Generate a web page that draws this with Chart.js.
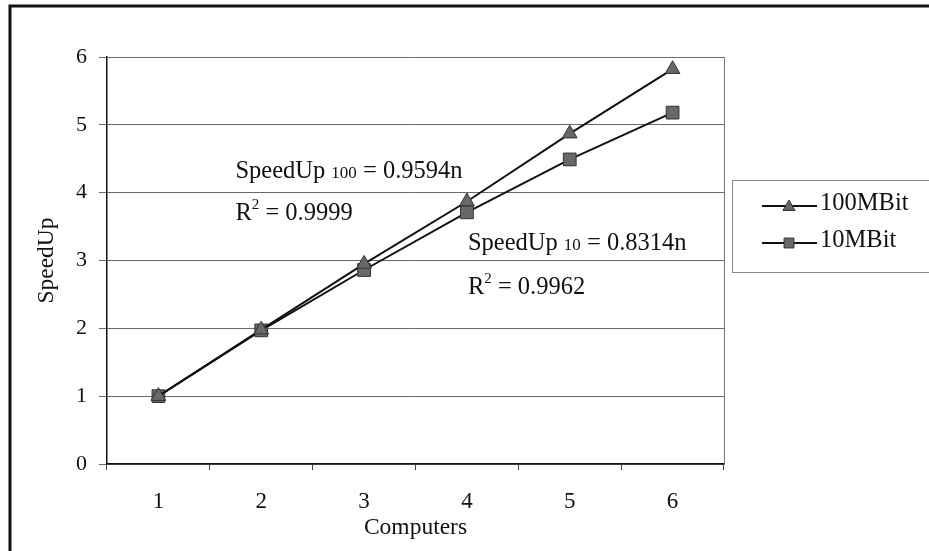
<!DOCTYPE html>
<html>
<head>
<meta charset="utf-8">
<script src="https://cdn.jsdelivr.net/npm/chart.js@4/dist/chart.umd.min.js"></script>
<style>
  html, body { margin: 0; padding: 0; background: #fff; }
  canvas { display: block; }
</style>
</head>
<body>
<canvas id="speedup" width="929" height="551"></canvas>
<script>
const computers = ["1", "2", "3", "4", "5", "6"];
const speed100 = [1.0, 1.98, 2.95, 3.87, 4.87, 5.82];
const speed10 = [1.0, 1.97, 2.86, 3.71, 4.49, 5.18];
const seriesNames = ["100MBit", "10MBit"];
const yTicks = [0, 1, 2, 3, 4, 5, 6];

const serif = "'Liberation Serif', 'Times New Roman', serif";
const markerFill = "#686868";

// frame around the whole figure and the plot area
const framePlugin = {
    id: "frame",
    beforeDraw(chart) {
        const ctx = chart.ctx;
        ctx.save();
        ctx.strokeStyle = "#111";
        ctx.lineWidth = 3;
        ctx.beginPath();
        ctx.moveTo(10, chart.height);
        ctx.lineTo(10, 6);
        ctx.lineTo(chart.width, 6);
        ctx.stroke();
        ctx.restore();
    },
    afterDatasetsDraw(chart) {
        const a = chart.chartArea, ctx = chart.ctx;
        ctx.save();
        ctx.strokeStyle = "#777";
        ctx.lineWidth = 1;
        ctx.beginPath();
        ctx.moveTo(a.right + 0.5, a.top);
        ctx.lineTo(a.right + 0.5, a.bottom);
        ctx.stroke();
        ctx.restore();
    }
};

// trend line equations written inside the plot
function subText(ctx, x, y, parts) {
    for (const p of parts) {
        ctx.font = p.size + "px " + serif;
        ctx.fillText(p.t, x, y + (p.dy || 0));
        x += ctx.measureText(p.t).width;
    }
}
const equationPlugin = {
    id: "equations",
    afterDraw(chart) {
        const ctx = chart.ctx, x = chart.scales.x, y = chart.scales.y;
        ctx.save();
        ctx.fillStyle = "#111";
        ctx.textBaseline = "alphabetic";
        const x1 = x.getPixelForValue(0) + 77, x2 = x.getPixelForValue(3) + 1;
        subText(ctx, x1, y.getPixelForValue(4.22), [
            {t: "SpeedUp ", size: 24.5}, {t: "100", size: 17}, {t: " = 0.9594n", size: 24.5}]);
        subText(ctx, x1, y.getPixelForValue(3.6), [
            {t: "R", size: 24.5}, {t: "2", size: 15, dy: -11}, {t: " = 0.9999", size: 24.5}]);
        subText(ctx, x2, y.getPixelForValue(3.15), [
            {t: "SpeedUp ", size: 24.5}, {t: "10", size: 17}, {t: " = 0.8314n", size: 24.5}]);
        subText(ctx, x2, y.getPixelForValue(2.5), [
            {t: "R", size: 24.5}, {t: "2", size: 15, dy: -11}, {t: " = 0.9962", size: 24.5}]);
        ctx.restore();
    }
};

// boxed legend to the right of the plot
const boxLegend = {
    id: "boxLegend",
    afterDraw(chart) {
        const ctx = chart.ctx;
        ctx.save();
        ctx.strokeStyle = "#888";
        ctx.lineWidth = 1;
        ctx.strokeRect(732.5, 180.5, 220, 92);
        chart.data.datasets.forEach((ds, i) => {
            const cy = 206 + i * 37;
            ctx.strokeStyle = "#111";
            ctx.lineWidth = 2;
            ctx.beginPath();
            ctx.moveTo(762, cy);
            ctx.lineTo(817, cy);
            ctx.stroke();
            ctx.fillStyle = ds.pointBackgroundColor;
            ctx.strokeStyle = "#333";
            ctx.lineWidth = 1;
            Chart.helpers.drawPoint(ctx, {
                pointStyle: ds.pointStyle, radius: 7, borderWidth: 1
            }, 789, cy + (ds.pointStyle === "triangle" ? 1 : 0));
            ctx.fillStyle = "#111";
            ctx.font = "24.5px " + serif;
            ctx.textBaseline = "middle";
            ctx.fillText(ds.label, 820, cy - 2);
        });
        ctx.restore();
    }
};

new Chart("speedup", {
    type: "line",
    data: {
        labels: computers,
        datasets: [{
            label: seriesNames[0],
            data: speed100,
            borderColor: "#111",
            borderWidth: 2,
            pointStyle: "triangle",
            pointRadius: 8.5,
            pointBackgroundColor: markerFill,
            pointBorderColor: "#333",
            pointBorderWidth: 1,
            tension: 0
        }, {
            label: seriesNames[1],
            data: speed10,
            borderColor: "#111",
            borderWidth: 2,
            pointStyle: "rect",
            pointRadius: 9,
            pointBackgroundColor: markerFill,
            pointBorderColor: "#333",
            pointBorderWidth: 1,
            tension: 0
        }]
    },
    options: {
        responsive: false,
        animation: false,
        devicePixelRatio: 1,
        layout: {padding: {left: 12, right: 205, top: 57, bottom: 0}},
        plugins: {
            legend: {display: false},
            tooltip: {enabled: false}
        },
        scales: {
            x: {
                offset: true,
                afterFit: s => { s.height = 87; },
                grid: {drawOnChartArea: false, offset: true, tickLength: 6, color: "#444"},
                border: {color: "#111", width: 1.5},
                ticks: {color: "#111", padding: 18, font: {family: serif, size: 23}},
                title: {display: true, text: "Computers", color: "#111",
                        padding: {top: 0, bottom: 9}, font: {family: serif, size: 23.5}}
            },
            y: {
                min: 0,
                max: 6,
                afterFit: s => { s.width = 95; },
                afterBuildTicks: s => { s.ticks = yTicks.map(v => ({value: v})); },
                grid: {color: "#6a6a6a", lineWidth: 1, tickLength: 8},
                border: {color: "#111", width: 1.5},
                ticks: {color: "#111", padding: 12, font: {family: serif, size: 22}},
                title: {display: true, text: "SpeedUp", color: "#111",
                        padding: {top: 21, bottom: 0}, font: {family: serif, size: 23.5}}
            }
        }
    },
    plugins: [framePlugin, equationPlugin, boxLegend]
});
</script>
</body>
</html>
